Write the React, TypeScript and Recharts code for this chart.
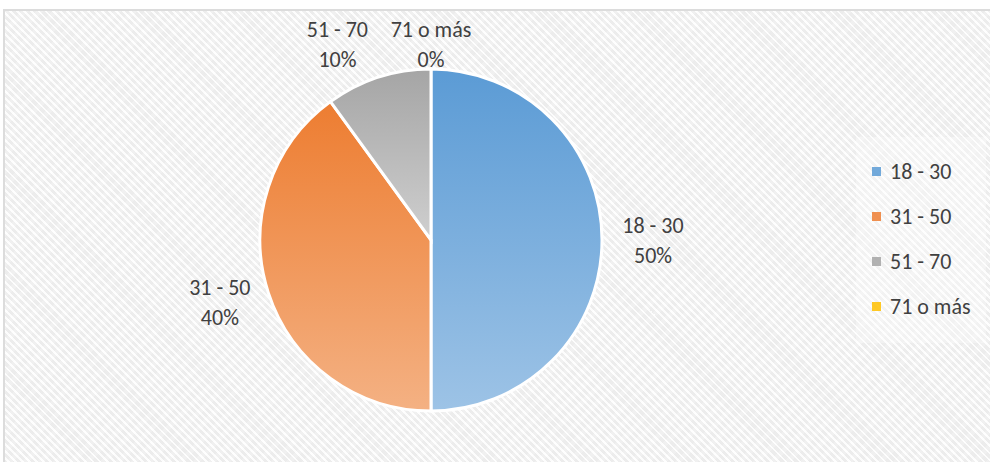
import { PieChart, Pie, Cell, Legend } from "recharts";

const categories = ["18 - 30", "31 - 50", "51 - 70", "71 o más"];
const shares = [50, 40, 10, 0];

const baseColors = ["#5B9BD5", "#ED7D31", "#A5A5A5", "#FFC000"];
const lightColors = ["#9DC3E6", "#F4B183", "#CFCFCF", "#FFD966"];

const data = categories.map((name, i) => ({ name, value: shares[i] }));

const FONT = "Carlito, Calibri, 'Noto Sans', sans-serif";
const RADIAN = Math.PI / 180;

// Excel shuffles the crowded top labels a bit to keep them apart
const labelNudge: Record<string, [number, number]> = {
    "31 - 50": [0, -5],
    "51 - 70": [-25, 10],
    "71 o más": [0, 21],
};

function renderLabel(props: any) {
    const { cx, cy, midAngle, outerRadius, name, value } = props;
    const gap = 16;
    const w = 70;
    const h = 60;
    const cos = Math.cos(-midAngle * RADIAN);
    const sin = Math.sin(-midAngle * RADIAN);
    const px = cx + (outerRadius + gap) * cos;
    const py = cy + (outerRadius + gap) * sin;
    const nudge = labelNudge[name] || [0, 0];
    const x = px + cos * (w / 2) + nudge[0];
    const y = py + sin * (h / 2) + nudge[1];
    return (
        <text
            x={x}
            y={y}
            textAnchor="middle"
            fill="#404040"
            fontSize={22}
            fontFamily={FONT}
        >
            <tspan x={x} dy={-7}>{name}</tspan>
            <tspan x={x} dy={30}>{`${value}%`}</tspan>
        </text>
    );
}

function LegendBox({ payload }: any) {
    return (
        <div
            style={{
                background: "rgba(255,255,255,0.3)",
                padding: "12px 0 14px 16px",
                fontFamily: FONT,
                fontSize: 22,
                color: "#404040",
            }}
        >
            {(payload || []).map((entry: any, index: number) => (
                <div
                    key={`legend-${index}`}
                    style={{ display: "flex", alignItems: "center", height: 45 }}
                >
                    <span
                        style={{
                            width: 9,
                            height: 9,
                            marginRight: 9,
                            background: baseColors[categories.indexOf(entry.value)],
                            opacity: 0.85,
                        }}
                    />
                    <span>{entry.value}</span>
                </div>
            ))}
        </div>
    );
}

export default function App() {
    return (
        <div
            style={{
                position: "absolute",
                left: 0,
                top: 0,
                width: 990,
                height: 462,
                overflow: "hidden",
                background: "#ffffff",
            }}
        >
            <div
                style={{
                    position: "absolute",
                    left: 3,
                    top: 9,
                    width: 1000,
                    height: 470,
                    border: "2px solid #dcdcdc",
                    backgroundColor: "#f4f4f4",
                    backgroundImage:
                        "repeating-linear-gradient(45deg, rgba(255,255,255,0.8) 0px, rgba(255,255,255,0.8) 2px, rgba(234,234,234,0.6) 2px, rgba(234,234,234,0.6) 5px), repeating-linear-gradient(-45deg, rgba(255,255,255,0.5) 0px, rgba(255,255,255,0.5) 5px, rgba(236,236,236,0.5) 5px, rgba(236,236,236,0.5) 11px)",
                }}
            />
            <div style={{ position: "absolute", left: 0, top: 0 }}>
                <PieChart width={990} height={462} margin={{ top: 0, right: 0, bottom: 0, left: 0 }}>
                    <defs>
                        {categories.map((c, i) => (
                            <linearGradient key={c} id={`grad-${i}`} x1="0" y1="0" x2="0" y2="1">
                                <stop offset="0%" stopColor={baseColors[i]} />
                                <stop offset="100%" stopColor={lightColors[i]} />
                            </linearGradient>
                        ))}
                    </defs>
                    <Pie
                        data={data}
                        dataKey="value"
                        nameKey="name"
                        cx={431}
                        cy={240}
                        outerRadius={171}
                        startAngle={90}
                        endAngle={-270}
                        stroke="#ffffff"
                        strokeWidth={3}
                        label={renderLabel}
                        labelLine={false}
                        isAnimationActive={false}
                    >
                        {data.map((entry, index) => (
                            <Cell key={`cell-${index}`} fill={`url(#grad-${index})`} />
                        ))}
                    </Pie>
                    <Legend
                        layout="vertical"
                        content={<LegendBox />}
                        wrapperStyle={{ position: "absolute", left: 856, top: 137, width: 130 }}
                    />
                </PieChart>
            </div>
        </div>
    );
}
